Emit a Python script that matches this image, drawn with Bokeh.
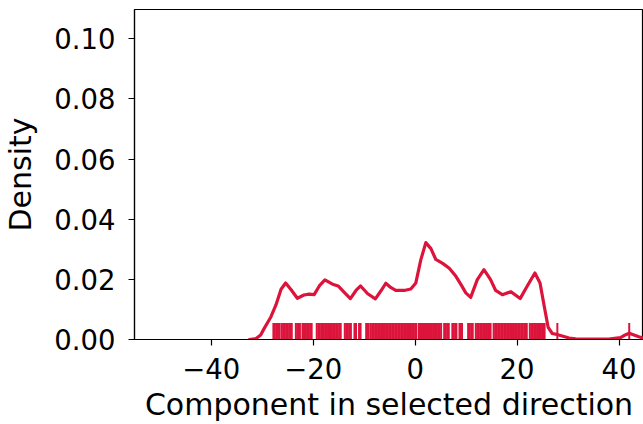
from bokeh.plotting import figure
from bokeh.models import FixedTicker, CustomJSTickFormatter, Range1d
from bokeh.embed import file_html
from bokeh.resources import INLINE

# KDE curve
kde_x = [-32.5, -31.2, -30.3, -29.6, -28.3, -27.3, -26.3, -25.4, -24.4, -23.1,
         -21.8, -20.8, -19.8, -18.8, -17.7, -16.2, -15.1, -13.9, -12.7, -11.6,
         -10.7, -9.3, -7.8, -6.7, -5.75, -4.8, -3.8, -2.15, -0.85, 0.14,
         1.1, 2.1, 3.1, 4.06, 5.4, 6.7, 8.0, 9.15, 9.94, 10.9,
         12.2, 13.5, 14.8, 15.8, 17.1, 18.8, 20.6, 22.0, 23.5, 24.5,
         25.3, 26.1, 26.9, 28.0, 29.2, 30.2, 31.5, 33.0, 38.0, 40.3,
         41.2, 42.0, 42.8, 43.9, 45.0]
kde_y = [0.0, 0.0003, 0.0015, 0.0037, 0.0075, 0.0115, 0.0167, 0.0188, 0.0167, 0.0137,
         0.0148, 0.0151, 0.0149, 0.0178, 0.0198, 0.0184, 0.0178, 0.0157, 0.0136, 0.0163,
         0.0178, 0.0152, 0.0135, 0.0162, 0.0187, 0.0173, 0.0163, 0.0163, 0.0168, 0.0188,
         0.0264, 0.0322, 0.0302, 0.0266, 0.0253, 0.0237, 0.0210, 0.0178, 0.0155, 0.0140,
         0.0199, 0.0232, 0.0199, 0.0163, 0.0149, 0.0159, 0.0136, 0.0178, 0.0221, 0.0188,
         0.0113, 0.0040, 0.0020, 0.0016, 0.0010, 0.0005, 0.0002, 0.0001, 0.0001, 0.0006,
         0.0015, 0.0021, 0.0016, 0.0009, 0.0003]

rug_x = [-27.8, -27.5, -27.1, -26.8, -26.6, -26.2, -25.9, -25.6, -25.3, -25.0, -24.7, -24.4, -24.2,
         -23.4, -23.1, -22.8, -22.6,
         -22.1, -21.8, -21.5, -21.2, -20.9, -20.6, -20.3,
         -19.3, -19.0, -18.7, -18.4, -18.2, -17.9, -17.6, -17.3, -17.0, -16.7, -16.4, -16.1,
         -15.8, -15.5, -15.2, -14.9, -14.6,
         -13.8, -13.5, -13.2, -12.9, -12.6,
         -11.9, -11.6,
         -11.0, -10.7,
         -9.6, -9.3, -9.1, -8.7, -8.4, -8.1, -7.8, -7.5, -7.2, -6.9, -6.6, -6.3, -6.0, -5.7,
         -5.4, -5.1, -4.8, -4.5, -4.2, -3.9, -3.6, -3.3, -3.0, -2.7, -2.4, -2.1, -1.8, -1.5,
         -1.2, -0.9, -0.6, -0.3, 0.0, 0.2,
         0.7, 0.9, 1.1, 1.3, 1.5, 1.7, 1.9, 2.1, 2.3, 2.5, 2.7, 2.9, 3.1, 3.3, 3.6, 3.9,
         4.2, 4.5, 4.8, 5.1,
         5.7, 6.0, 6.3, 6.6,
         7.3, 7.6, 7.9, 8.1,
         8.7, 9.0, 9.2,
         10.4, 10.7, 11.0, 11.3,
         11.9, 12.2, 12.5, 12.8, 13.1, 13.4, 13.7, 14.0, 14.3, 14.6, 14.8,
         15.4, 15.7, 16.0, 16.3, 16.6, 16.9, 17.2, 17.5, 17.8, 18.1, 18.4, 18.7, 19.0,
         19.3, 19.6, 19.9, 20.2, 20.5, 20.8, 21.1, 21.4, 21.7, 21.9,
         22.5, 22.8, 23.1, 23.4, 23.7, 24.0, 24.3, 24.6, 24.9, 25.2, 25.4,
         27.9, 42.0]
rug_height = 0.0055

x_ticks = [-40, -20, 0, 20, 40]
y_ticks = [0.0, 0.02, 0.04, 0.06, 0.08, 0.10]

COLOR = "#DC143C"
FONT = "DejaVu Sans"

p = figure(width=643, height=424, output_backend="svg", toolbar_location=None,
           x_range=Range1d(-55.05, 44.8), y_range=Range1d(0, 0.1097),
           min_border_left=134, min_border_right=0, min_border_top=9, min_border_bottom=85)

p.grid.grid_line_color = None
p.outline_line_color = "black"
p.outline_line_width = 1.2
p.background_fill_color = "white"
p.border_fill_color = "white"

p.segment(x0=rug_x, y0=[0] * len(rug_x), x1=rug_x, y1=[rug_height] * len(rug_x),
          line_color=COLOR, line_width=2)
p.line(kde_x, kde_y, line_color=COLOR, line_width=3.2, line_join="round", line_cap="round")

p.xaxis.ticker = FixedTicker(ticks=x_ticks)
p.yaxis.ticker = FixedTicker(ticks=y_ticks)
p.xaxis.formatter = CustomJSTickFormatter(
    code="return (tick < 0 ? '\u2212' : '') + Math.abs(tick).toFixed(0);")
p.yaxis.formatter = CustomJSTickFormatter(code="return tick.toFixed(2);")

for ax in (p.xaxis, p.yaxis):
    ax.axis_line_color = "black"
    ax.axis_line_width = 1.2
    ax.major_tick_line_color = "black"
    ax.major_tick_line_width = 1.2
    ax.major_tick_in = 0
    ax.major_tick_out = 6
    ax.minor_tick_line_color = None
    ax.major_label_text_font = FONT
    ax.major_label_text_font_size = "27.5px"
    ax.major_label_text_color = "black"
    ax.axis_label_text_font = FONT
    ax.axis_label_text_font_size = "30px"
    ax.axis_label_text_font_style = "normal"
    ax.axis_label_text_color = "black"

p.xaxis.axis_label = "Component in selected direction"
p.yaxis.axis_label = "Density"
p.xaxis.major_label_standoff = 12
p.yaxis.major_label_standoff = 13
p.xaxis.axis_label_standoff = 5
p.yaxis.axis_label_standoff = 13

open("out.html", "w").write(file_html(p, INLINE))
